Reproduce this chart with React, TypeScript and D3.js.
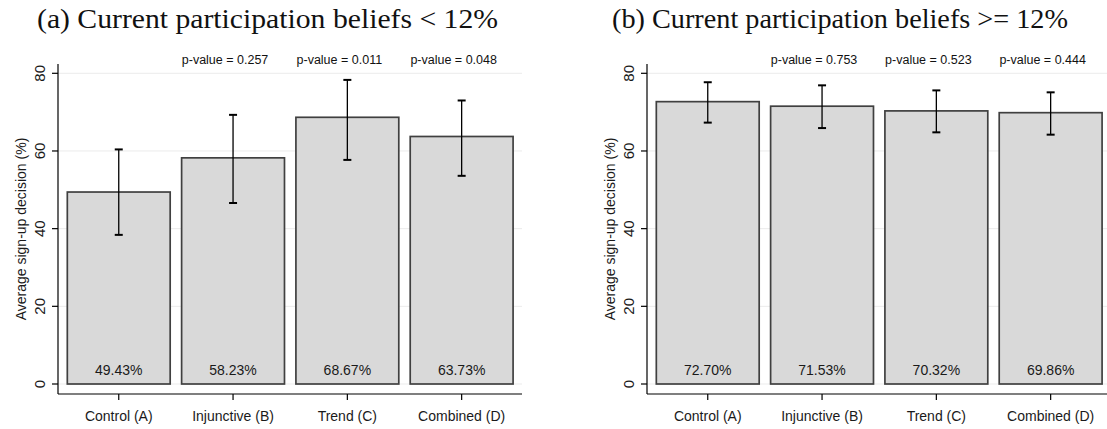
import * as d3 from 'd3';

// bar groups and values
const groups = ['Control (A)', 'Injunctive (B)', 'Trend (C)', 'Combined (D)'];

const lowMeans = [49.43, 58.23, 68.67, 63.73];
const lowLower = [38.4, 46.6, 57.7, 53.6];
const lowUpper = [60.4, 69.3, 78.3, 73.0];
const lowPValues = ['0.257', '0.011', '0.048'];

const highMeans = [72.7, 71.53, 70.32, 69.86];
const highLower = [67.3, 65.9, 64.8, 64.2];
const highUpper = [77.7, 76.9, 75.6, 75.1];
const highPValues = ['0.753', '0.523', '0.444'];

const yTicks = [0, 20, 40, 60, 80];

const sans = '"Liberation Sans", Arial, Helvetica, sans-serif';
const serif = '"Liberation Serif", "DejaVu Serif", serif';

const Panel = ({ offset, means, lower, upper, pvalues }) => {
  const x = d3.scaleBand()
    .domain(groups)
    .range([61.6, 518.8])
    .paddingInner(0.1)
    .paddingOuter(0.05);

  const y = d3.scaleLinear()
    .domain([0, 80])
    .range([384, 73.3]);

  const left = 58;
  const right = 522;
  const top = 64;
  const bottom = 394;
  const cap = 4;

  return (
    <g transform={`translate(${offset},0)`}>
      {/* gridlines */}
      {yTicks.map(t => (
        <line key={'g' + t} x1={left} x2={right} y1={y(t)} y2={y(t)} stroke="#ebebeb" strokeWidth={1} />
      ))}

      {/* bars */}
      {groups.map((g, i) => (
        <rect key={'b' + g}
          x={x(g)} y={y(means[i])}
          width={x.bandwidth()} height={y(0) - y(means[i])}
          fill="#d9d9d9" stroke="#404040" strokeWidth={1.7} />
      ))}

      {/* error bars */}
      {groups.map((g, i) => {
        const cx = x(g) + x.bandwidth() / 2;
        return (
          <g key={'e' + g} stroke="#000">
            <line x1={cx} x2={cx} y1={y(upper[i])} y2={y(lower[i])} strokeWidth={1.3} />
            <line x1={cx - cap} x2={cx + cap} y1={y(upper[i])} y2={y(upper[i])} strokeWidth={2} />
            <line x1={cx - cap} x2={cx + cap} y1={y(lower[i])} y2={y(lower[i])} strokeWidth={2} />
          </g>
        );
      })}

      {/* value labels */}
      {groups.map((g, i) => (
        <text key={'v' + g} x={x(g) + x.bandwidth() / 2} y={375}
          textAnchor="middle" fontFamily={sans} fontSize={14} fill="#1a1a1a">
          {means[i].toFixed(2)}%
        </text>
      ))}

      {/* p-values over B, C, D */}
      {pvalues.map((p, i) => (
        <text key={'p' + i} x={x(groups[i + 1]) + x.bandwidth() / 2 - 8} y={64}
          textAnchor="middle" fontFamily={sans} fontSize={12.5} fill="#111">
          p-value = {p}
        </text>
      ))}

      {/* axes */}
      <line x1={left} x2={left} y1={top} y2={bottom} stroke="#000" strokeWidth={1.2} />
      <line x1={left} x2={right} y1={bottom} y2={bottom} stroke="#000" strokeWidth={1.2} />
      {yTicks.map(t => (
        <g key={'t' + t}>
          <line x1={left - 6} x2={left} y1={y(t)} y2={y(t)} stroke="#000" strokeWidth={1.2} />
          <text transform={`translate(45,${y(t)}) rotate(-90)`} textAnchor="middle"
            fontFamily={sans} fontSize={15} fill="#1a1a1a">{t}</text>
        </g>
      ))}
      {groups.map(g => (
        <g key={'x' + g}>
          <line x1={x(g) + x.bandwidth() / 2} x2={x(g) + x.bandwidth() / 2} y1={bottom} y2={bottom + 6}
            stroke="#000" strokeWidth={1.2} />
          <text x={x(g) + x.bandwidth() / 2} y={421} textAnchor="middle"
            fontFamily={sans} fontSize={14} fill="#1a1a1a">{g}</text>
        </g>
      ))}
      <text transform={`translate(26,229) rotate(-90)`} textAnchor="middle"
        fontFamily={sans} fontSize={14} fill="#1a1a1a">Average sign-up decision (%)</text>
    </g>
  );
};

export default function App() {
  return (
    <svg width={1107} height={429} style={{ display: 'block', position: 'absolute', left: 0, top: 0 }}>
      <rect width={1107} height={429} fill="#fff" />
      <text x={267.5} y={28} textAnchor="middle" fontFamily={serif} fontSize={28}
        textLength={461} lengthAdjust="spacingAndGlyphs" fill="#111">
        (a) Current participation beliefs &lt; 12%
      </text>
      <text x={840} y={28} textAnchor="middle" fontFamily={serif} fontSize={28}
        textLength={456} lengthAdjust="spacingAndGlyphs" fill="#111">
        (b) Current participation beliefs &gt;= 12%
      </text>
      <Panel offset={0} means={lowMeans} lower={lowLower} upper={lowUpper} pvalues={lowPValues} />
      <Panel offset={589} means={highMeans} lower={highLower} upper={highUpper} pvalues={highPValues} />
    </svg>
  );
}
